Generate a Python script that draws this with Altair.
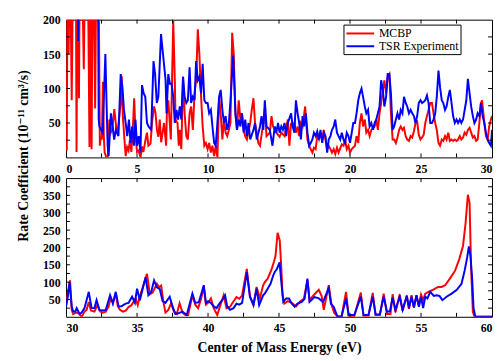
import altair as alt
import pandas as pd

SERIES = ["MCBP", "TSR Experiment"]
COLORS = ["#ff0000", "#0000ff"]

# ---- top panel (0-30 eV), (energy, rate) pairs ----
MCBP_TOP = [(0.00,120),(0.05,10),(0.10,250),(0.18,150),(0.24,250),(0.32,230),(0.40,83),(0.48,250),(0.60,250),(0.70,230),
(0.74,8),(0.80,250),(0.87,250),(0.91,86),(0.96,250),(1.05,250),(1.15,250),(1.25,128),(1.32,250),(1.45,250),
(1.55,250),(1.65,15),(1.72,250),(1.80,12),(1.87,250),(1.95,250),(2.05,71),(2.12,250),(2.20,250),(2.30,250),
(2.38,17),(2.45,30),(2.52,26),(2.60,110),(2.66,30),(2.72,7),(2.85,0),(2.95,2),(3.05,55),(3.15,36),
(3.25,40),(3.40,70),(3.55,40),(3.65,40),(3.75,60),(3.85,80),(3.92,118),(4.00,60),(4.10,30),(4.20,2),
(4.30,15),(4.40,10),(4.50,25),(4.60,8),(4.70,40),(4.80,86),(4.90,30),(5.00,8),(5.10,10),(5.25,0),
(5.35,16),(5.45,8),(5.60,26),(5.70,36),(5.80,17),(5.95,20),(6.05,50),(6.20,74),(6.30,65),(6.40,40),
(6.50,30),(6.60,55),(6.70,22),(6.80,36),(6.90,50),(7.05,17),(7.10,64),(7.20,83),(7.38,26),(7.55,198),
(7.66,112),(7.71,55),(7.85,50),(7.94,17),(8.01,40),(8.12,12),(8.24,117),(8.35,64),(8.47,31),(8.58,26),
(8.70,64),(8.81,74),(8.93,40),(9.05,93),(9.16,112),(9.28,186),(9.39,150),(9.51,88),(9.62,45),(9.74,17),
(9.85,21),(9.97,12),(10.08,21),(10.20,7),(10.31,17),(10.43,2),(10.54,17),(10.66,0),(10.78,88),(10.89,64),
(11.01,26),(11.12,55),(11.24,36),(11.35,31),(11.47,40),(11.58,50),(11.70,181),(11.81,150),(11.93,64),(12.04,40),
(12.16,83),(12.28,55),(12.39,64),(12.51,40),(12.62,31),(12.74,26),(12.97,50),(13.08,69),(13.20,86),(13.31,50),
(13.43,36),(13.54,21),(13.66,17),(13.89,50),(14.00,69),(14.12,31),(14.35,36),(14.47,60),(14.58,45),(14.81,36),
(15.04,30),(15.16,36),(15.39,31),(15.62,55),(15.73,17),(15.85,50),(15.96,45),(16.08,50),(16.19,36),(16.31,45),
(16.42,31),(16.54,50),(16.66,45),(16.84,74),(17.00,26),(17.12,17),(17.23,12),(17.35,7),(17.46,14),(17.58,12),
(17.69,31),(17.81,26),(17.92,36),(18.04,26),(18.15,40),(18.27,26),(18.39,12),(18.50,17),(18.62,12),(18.73,7),
(18.85,12),(18.96,5),(19.08,14),(19.19,7),(19.42,19),(19.54,17),(19.65,26),(19.77,12),(19.89,17),(20.00,7),
(20.12,12),(20.35,17),(20.46,31),(20.58,21),(20.69,50),(20.81,64),(20.92,45),(21.04,55),(21.15,36),(21.27,40),
(21.38,31),(21.50,40),(21.73,45),(21.85,55),(21.96,40),(22.08,64),(22.19,79),(22.31,98),(22.42,112),(22.54,93),
(22.65,117),(22.77,121),(22.88,64),(23.00,26),(23.11,26),(23.23,21),(23.34,29),(23.46,40),(23.57,45),(23.69,40),
(23.80,43),(23.92,31),(24.03,26),(24.15,24),(24.27,31),(24.38,29),(24.50,38),(24.61,50),(24.73,52),(24.84,33),
(24.96,26),(25.07,29),(25.19,33),(25.30,50),(25.42,60),(25.53,69),(25.65,79),(25.77,79),(25.88,64),(26.00,50),
(26.11,40),(26.23,21),(26.34,17),(26.46,26),(26.57,24),(26.69,31),(26.80,26),(26.92,36),(27.03,24),(27.15,26),
(27.26,24),(27.38,26),(27.50,24),(27.61,26),(27.73,31),(27.84,26),(27.96,29),(28.07,36),(28.19,33),(28.30,40),
(28.42,43),(28.53,36),(28.65,29),(28.76,31),(28.88,24),(28.99,26),(29.11,50),(29.22,79),(29.30,83),(29.46,50),
(29.57,31),(29.69,26),(29.80,45),(29.92,55),(30.00,60)]

TSR_TOP = [(0.00,250),(0.80,250),(0.85,169),(0.90,250),(2.25,250),(2.30,55),(2.35,45),(2.47,40),(2.58,36),(2.77,150),
(2.86,74),(2.93,17),(3.00,2),(3.16,64),(3.28,45),(3.39,26),(3.51,40),(3.69,31),(3.85,121),(3.97,102),
(4.08,69),(4.20,50),(4.31,31),(4.43,55),(4.54,21),(4.66,45),(4.78,17),(4.89,55),(5.00,17),(5.12,31),
(5.24,7),(5.35,105),(5.47,93),(5.58,88),(5.70,50),(5.81,45),(6.00,40),(6.16,140),(6.27,121),(6.39,79),
(6.50,88),(6.69,179),(6.78,160),(6.92,131),(7.01,112),(7.08,64),(7.20,121),(7.31,107),(7.43,107),(7.55,88),
(7.66,50),(7.78,69),(7.89,55),(8.01,74),(8.12,55),(8.24,117),(8.35,88),(8.47,79),(8.58,83),(8.70,131),
(8.81,79),(8.93,88),(9.05,83),(9.16,140),(9.28,112),(9.39,117),(9.51,93),(9.62,136),(9.74,83),(9.85,79),
(9.97,79),(10.08,64),(10.20,69),(10.31,45),(10.43,21),(10.54,17),(10.66,50),(10.78,88),(10.89,98),(11.01,69),
(11.12,50),(11.24,60),(11.35,40),(11.47,50),(11.58,83),(11.77,148),(11.93,64),(12.04,40),(12.16,55),(12.28,45),
(12.39,64),(12.51,36),(12.62,55),(12.74,31),(12.85,50),(12.97,26),(13.20,40),(13.31,50),(13.43,26),(13.66,45),
(13.77,60),(13.89,40),(14.00,83),(14.12,45),(14.35,40),(14.54,17),(14.70,45),(14.81,36),(14.93,50),(15.04,36),
(15.16,45),(15.27,40),(15.39,50),(15.50,31),(15.62,50),(15.85,64),(15.96,45),(16.08,36),(16.19,83),(16.31,64),
(16.42,50),(16.54,26),(16.66,60),(16.77,45),(16.89,64),(17.00,36),(17.12,17),(17.23,21),(17.35,26),(17.46,36),
(17.58,31),(17.69,38),(17.81,26),(17.92,40),(18.04,21),(18.15,36),(18.27,31),(18.39,7),(18.50,26),(18.62,31),
(18.73,40),(18.85,45),(18.96,55),(19.08,36),(19.19,31),(19.31,26),(19.42,36),(19.54,26),(19.65,21),(19.77,36),
(19.89,31),(20.00,21),(20.12,36),(20.23,50),(20.35,50),(20.46,64),(20.58,83),(20.69,93),(20.81,100),(20.92,88),
(21.04,74),(21.15,64),(21.27,69),(21.38,45),(21.50,50),(21.62,40),(21.73,50),(21.85,55),(21.96,64),(22.08,74),
(22.19,112),(22.31,98),(22.42,74),(22.54,88),(22.65,121),(22.77,121),(22.88,93),(23.00,40),(23.11,45),(23.23,55),
(23.34,64),(23.46,55),(23.57,69),(23.69,64),(23.80,88),(23.92,79),(24.03,74),(24.15,64),(24.27,69),(24.38,64),
(24.50,60),(24.61,50),(24.73,60),(24.84,79),(24.96,83),(25.07,79),(25.19,81),(25.30,83),(25.42,90),(25.53,79),
(25.65,50),(25.77,50),(25.88,55),(26.00,64),(26.11,88),(26.23,126),(26.34,102),(26.46,83),(26.57,79),(26.69,69),
(26.80,74),(26.92,88),(27.03,98),(27.15,79),(27.26,60),(27.38,50),(27.50,55),(27.61,50),(27.73,55),(27.84,50),
(27.96,55),(28.19,83),(28.30,114),(28.42,93),(28.53,74),(28.65,60),(28.76,50),(28.88,55),(28.99,64),(29.11,60),
(29.22,79),(29.34,60),(29.46,50),(29.57,36),(29.69,26),(29.80,21),(29.92,17),(30.00,40)]

# ---- bottom panel (30-60 eV) ----
MCBP_BOT = [(30.0,40),(30.1,60),(30.28,105),(30.4,20),(30.5,8),(30.7,12),(30.9,10),(31.1,0),(31.3,15),(31.45,20),
(31.6,43),(31.75,18),(32.0,15),(32.2,34),(32.4,15),(32.6,12),(32.8,15),(33.0,30),(33.15,55),(33.3,40),
(33.5,67),(33.65,30),(33.8,20),(34.0,15),(34.2,18),(34.4,28),(34.6,33),(34.9,53),(35.05,34),(35.2,60),
(35.4,85),(35.7,124),(35.9,65),(36.1,70),(36.4,95),(36.55,85),(36.7,90),(36.85,45),(37.0,12),(37.2,20),
(37.4,39),(37.6,15),(37.8,8),(38.0,39),(38.2,12),(38.4,5),(38.6,5),(38.9,62),(39.1,35),(39.3,25),
(39.5,50),(39.7,86),(39.85,35),(40.0,40),(40.2,53),(40.4,25),(40.65,5),(40.8,25),(41.1,62),(41.3,25),
(41.55,29),(41.8,45),(42.0,57),(42.2,52),(42.4,62),(42.73,138),(42.95,60),(43.2,34),(43.42,86),(43.65,53),
(43.88,91),(44.0,100),(44.2,110),(44.46,135),(44.65,160),(44.75,175),(44.9,242),(45.05,220),(45.15,150),(45.25,62),
(45.38,38),(45.6,45),(45.9,40),(46.2,30),(46.5,45),(46.75,52),(47.0,105),(47.15,48),(47.5,65),(47.8,78),
(48.0,60),(48.15,20),(48.5,91),(48.7,34),(48.9,10),(49.1,2),(49.4,0),(49.72,72),(49.9,3),(50.3,2),
(50.76,70),(50.95,3),(51.3,3),(51.6,69),(51.8,5),(52.1,5),(52.37,67),(52.6,8),(52.85,8),(53.0,65),
(53.2,13),(53.5,64),(53.7,17),(54.0,62),(54.15,23),(54.33,62),(54.5,27),(54.68,62),(54.85,32),(55.0,64),
(55.15,48),(55.3,67),(55.53,72),(55.9,79),(56.2,86),(56.45,86),(56.7,91),(57.03,110),(57.4,133),(57.7,167),
(57.96,205),(58.14,271),(58.3,352),(58.42,328),(58.53,138),(58.65,15),(58.76,0),(60.0,0)]

TSR_BOT = [(30.0,30),(30.1,50),(30.25,100),(30.4,30),(30.5,15),(30.65,15),(30.75,25),(30.95,8),(31.1,12),(31.3,25),
(31.6,72),(31.8,25),(32.0,25),(32.15,48),(32.35,20),(32.6,18),(32.8,20),(33.1,62),(33.3,38),(33.5,72),
(33.7,30),(33.9,30),(34.2,38),(34.4,40),(34.65,58),(34.85,40),(35.0,81),(35.2,48),(35.6,114),(35.8,62),
(36.0,72),(36.2,105),(36.4,85),(36.6,80),(36.8,45),(37.0,40),(37.3,58),(37.5,30),(37.7,8),(37.9,10),
(38.2,15),(38.5,5),(38.9,67),(39.1,40),(39.35,42),(39.7,91),(39.85,40),(40.0,45),(40.2,40),(40.4,30),
(40.6,25),(40.8,38),(41.0,48),(41.2,62),(41.35,30),(41.55,20),(41.8,25),(42.0,38),(42.2,35),(42.4,40),
(42.73,129),(42.95,58),(43.2,34),(43.42,81),(43.6,34),(43.88,62),(44.0,67),(44.2,81),(44.4,95),(44.6,120),
(44.7,129),(44.85,138),(45.04,157),(45.15,105),(45.3,43),(45.5,53),(45.7,53),(45.9,38),(46.1,29),(46.3,38),
(46.6,43),(46.8,52),(47.0,110),(47.15,43),(47.5,57),(47.8,53),(48.1,43),(48.5,83),(48.65,38),(48.85,29),
(49.1,2),(49.4,0),(49.72,53),(49.9,5),(50.3,5),(50.76,58),(50.95,5),(51.3,5),(51.6,58),(51.8,7),
(52.1,7),(52.37,58),(52.6,15),(52.8,15),(53.0,55),(53.2,20),(53.5,58),(53.7,20),(54.0,60),(54.15,25),
(54.33,58),(54.5,27),(54.68,62),(54.85,29),(55.0,58),(55.15,25),(55.3,58),(55.45,53),(55.65,72),(55.9,60),
(56.1,62),(56.3,60),(56.5,48),(56.8,58),(57.15,67),(57.5,77),(57.85,95),(58.07,133),(58.25,171),(58.37,203),
(58.48,176),(58.6,110),(58.7,25),(58.83,0),(60.0,0)]

TOP_X_LABELS = [0, 5, 10, 15, 20, 25, 30]
TOP_Y_LABELS = [50, 100, 150, 200]
BOT_X_LABELS = [30, 35, 40, 45, 50, 55, 60]
BOT_Y_LABELS = [50, 100, 150, 200, 250, 300, 350, 400]
TOP_X_TICKS = [2.5, 5, 7.5, 10, 12.5, 15, 17.5, 20, 22.5, 25, 27.5]
TOP_Y_TICKS = [25, 50, 75, 100, 125, 150, 175]
BOT_X_TICKS = [32.5, 35, 37.5, 40, 42.5, 45, 47.5, 50, 52.5, 55, 57.5]
BOT_Y_TICKS = [25, 50, 75, 100, 125, 150, 175, 200, 225, 250, 275, 300, 325, 350, 375]

W = 433
H_TOP = 140
H_BOT = 141
FONT = "Times New Roman, Liberation Serif, DejaVu Serif, serif"


def to_df(pairs, name):
    return pd.DataFrame({"E": [p[0] for p in pairs], "v": [p[1] for p in pairs], "s": name})


def panel(red, blue, xdom, ydom, xlabels, ylabels, xticks, yticks, H, legend, xtitle, yaxis):
    xs = alt.Scale(domain=xdom, nice=False, zero=False)
    ys = alt.Scale(domain=ydom, nice=False, zero=False)
    cs = alt.Scale(domain=SERIES, range=COLORS)
    xaxis = alt.Axis(values=xlabels, title=xtitle, grid=False, ticks=False, domain=False,
                     labelPadding=6, labelFlush=True, format="d", titlePadding=7)
    layers = []
    for i, d in enumerate([to_df(red, SERIES[0]), to_df(blue, SERIES[1])]):
        layers.append(
            alt.Chart(d).mark_line(clip=True, strokeWidth=2).encode(
                x=alt.X("E:Q", scale=xs, axis=xaxis),
                y=alt.Y("v:Q", scale=ys, axis=yaxis),
                color=alt.Color("s:N", scale=cs, legend=legend if i == 0 else None),
            )
        )
    tx = pd.DataFrame({"t": xticks})
    ty = pd.DataFrame({"t": yticks})
    tick_len = 4
    layers += [
        alt.Chart(tx).mark_rule(color="black").encode(
            x=alt.X("t:Q", scale=xs, axis=xaxis), y=alt.value(H), y2=alt.value(H - tick_len)),
        alt.Chart(tx).mark_rule(color="black").encode(
            x=alt.X("t:Q", scale=xs, axis=xaxis), y=alt.value(0), y2=alt.value(tick_len)),
        alt.Chart(ty).mark_rule(color="black").encode(
            y=alt.Y("t:Q", scale=ys, axis=yaxis), x=alt.value(0), x2=alt.value(tick_len)),
        alt.Chart(ty).mark_rule(color="black").encode(
            y=alt.Y("t:Q", scale=ys, axis=yaxis), x=alt.value(W), x2=alt.value(W - tick_len)),
    ]
    return alt.layer(*layers).properties(width=W, height=H)


legend = alt.Legend(orient="none", legendX=282, legendY=5, title=None,
                    symbolType="M-1,0H3.7", symbolSize=144, symbolStrokeWidth=2,
                    labelFont=FONT, labelFontSize=12, labelFontWeight="normal",
                    labelColor="black", labelOffset=20,
                    strokeColor="black", fillColor="white", padding=2, rowPadding=0)

top_yaxis = alt.Axis(values=TOP_Y_LABELS, grid=False, ticks=False, domain=False, labelPadding=6,
                     title="Rate Coefficient (10⁻¹¹ cm³/s)", titleX=-36, titleY=138,
                     titleAngle=270, titleAlign="center", titleBaseline="bottom")
bot_yaxis = alt.Axis(values=BOT_Y_LABELS, grid=False, ticks=False, domain=False, labelPadding=6,
                     title=None)

top = panel(MCBP_TOP, TSR_TOP, [0, 30], [0, 200], TOP_X_LABELS, TOP_Y_LABELS, TOP_X_TICKS,
            TOP_Y_TICKS, H_TOP, legend, None, top_yaxis)
bottom = panel(MCBP_BOT, TSR_BOT, [30, 60], [0, 400], BOT_X_LABELS, BOT_Y_LABELS, BOT_X_TICKS,
               BOT_Y_TICKS, H_BOT, None, "Center of Mass Energy (eV)", bot_yaxis)

chart = alt.vconcat(top, bottom, spacing=21, bounds="flush").resolve_scale(
    x="independent", y="independent", color="shared"
).properties(
    padding={"left": 8, "top": 2, "right": 0, "bottom": 0}
).configure_view(
    stroke="black", strokeWidth=1
).configure_axis(
    labelFont=FONT, labelFontSize=12, labelFontWeight="bold", labelColor="black",
    titleFont=FONT, titleFontSize=14, titleFontWeight="bold", titleColor="black",
    titlePadding=4
).configure_legend(
    labelFont=FONT
)

chart.save("out.html", embed_options={"renderer": "svg", "actions": False})
